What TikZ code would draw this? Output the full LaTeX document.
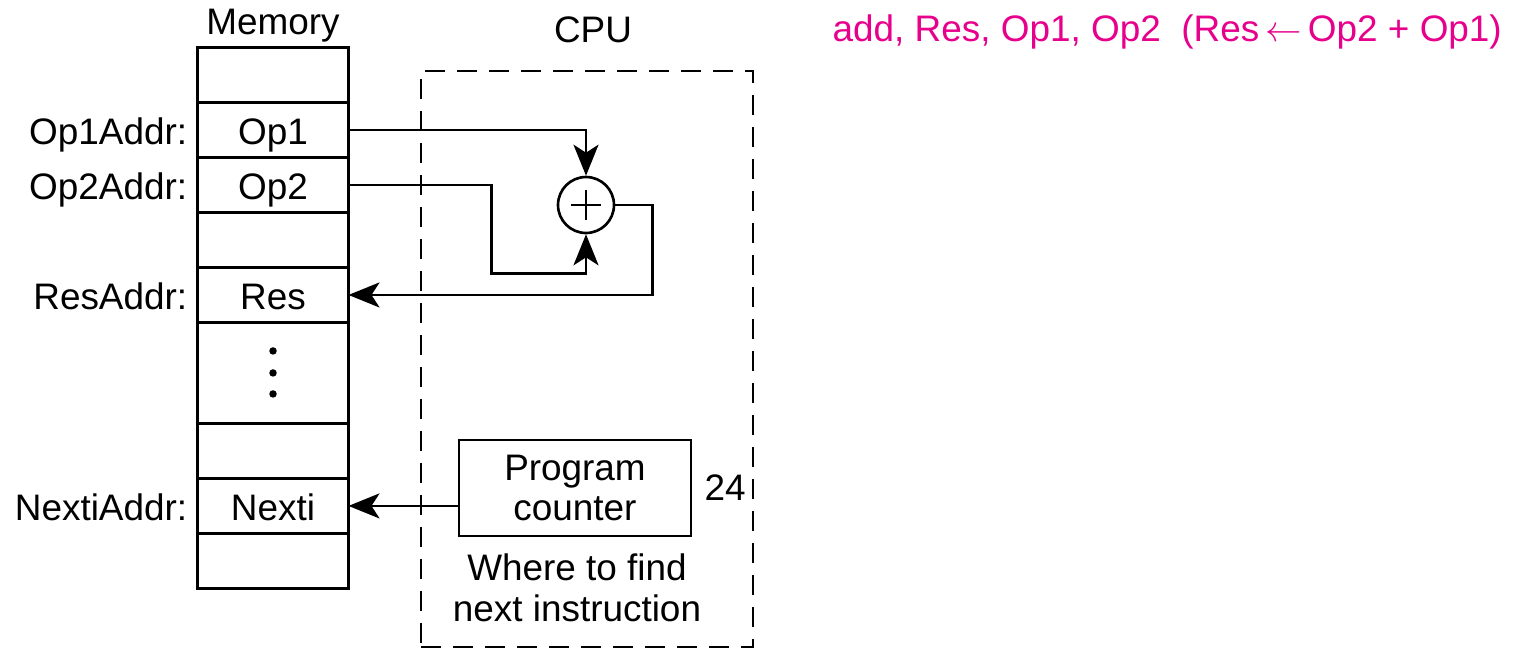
\documentclass[tikz,border=0pt]{standalone}
\usepackage{fontspec}
\setmainfont{Liberation Sans}
\usetikzlibrary{positioning,arrows.meta}

\definecolor{instrcol}{RGB}{230,0,140}
\tikzset{
  cell/.style={draw, line width=1.5pt, minimum width=3.02cm, minimum height=1.1cm, inner sep=0pt, outer sep=0pt, text height=17pt, text depth=0pt},
  addr/.style={inner sep=0pt, text height=17pt, text depth=0pt},
  wire/.style={line width=1.5pt},
  arr/.style={wire, -{Stealth[length=0.62cm,width=0.5cm,inset=0.16cm]}},
}

\begin{document}
\begin{tikzpicture}[x=0.02cm, y=-0.02cm, font=\fontsize{21}{23}\selectfont]
\useasboundingbox (0,0) rectangle (1513,649);
% memory column
\node[cell] (m0) at (273,75) {};
\node[cell, below=0pt of m0] (op1) {Op1};
\node[cell, below=0pt of op1] (op2) {Op2};
\node[cell, below=0pt of op2] (m3) {};
\node[cell, below=0pt of m3] (res) {Res};
\node[cell, below=0pt of res, minimum height=2.02cm] (dots) {};
\node[cell, below=0pt of dots] (m6) {};
\node[cell, below=0pt of m6] (nexti) {Nexti};
\node[cell, below=0pt of nexti] (m8) {};
\foreach \dy in {-22,0,21}
  \fill ([yshift=-\dy*0.02cm]dots.center) circle (0.075cm);
\node[addr, left=0.2cm of op1] (op1addr) {Op1Addr:};
\node[addr, left=0.2cm of op2] (op2addr) {Op2Addr:};
\node[addr, left=0.2cm of res] (resaddr) {ResAddr:};
\node[addr, left=0.2cm of nexti] (nextiaddr) {NextiAddr:};
\node (memlbl) at (273,26) {Memory};
% cpu
\node (cpulbl) at (593,30) {CPU};
\node[draw, wire, dash pattern=on 0.4cm off 0.24cm, minimum width=6.64cm, minimum height=11.52cm] (cpu) at (587,359) {};
\node[draw, circle, wire, minimum size=1.12cm, inner sep=0pt] (add) at (586,205) {};
\draw[line width=1.1pt] ([xshift=-0.3cm]add.center) -- ([xshift=0.3cm]add.center)
  ([yshift=-0.3cm]add.center) -- ([yshift=0.3cm]add.center);
\node[draw, wire, minimum width=4.64cm, minimum height=1.92cm, align=center] (pc) at (575,488) {Program\\counter};
\node[right=0.12cm of pc] (pcwidth) {24};
\node[align=center] (where) at (577,588) {Where to find\\next instruction};
%
\draw[arr] (op1.east) -| (add.north);
\draw[arr] (op2.east) -| ++(143,88.5) -| (add.south);
\draw[arr] (add.east) -- ++(37,0) |- (res.east);
\draw[arr] (pc.west |- nexti.east) -- (nexti.east);
\node[text=instrcol, anchor=east] (instr) at (1508,32) {add, Res, Op1, Op2 \ (Res\,$\leftarrow$\,Op2 + Op1)};
\end{tikzpicture}
\end{document}
